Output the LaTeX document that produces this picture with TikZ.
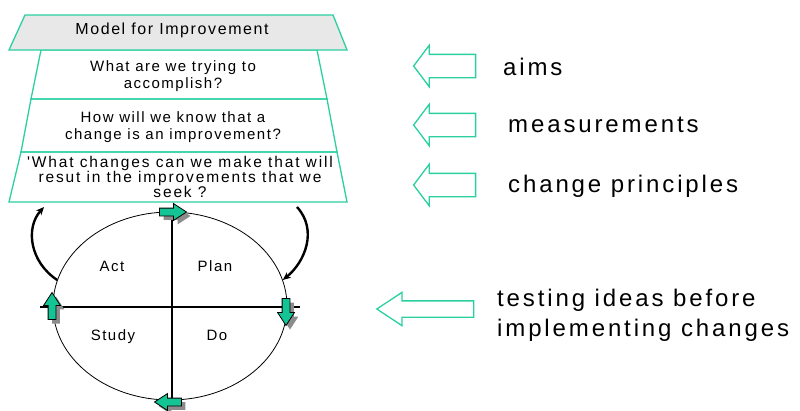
\documentclass[tikz,border=0pt]{standalone}
\usepackage{fontspec}
\setmainfont{Liberation Sans}
\newfontfamily\boxfont[LetterSpace=10]{Liberation Sans}
\newfontfamily\sidefont[LetterSpace=12]{Liberation Sans}
\usetikzlibrary{shapes.geometric,shapes.arrows,shadows,arrows.meta}

\definecolor{tierline}{HTML}{2AD0A0}
\definecolor{cyclefill}{HTML}{14C494}
\definecolor{titlegray}{HTML}{E8E8E8}

\tikzset{
  tier/.style={draw=tierline, line width=1.3pt, line join=miter},
  boxtext/.style={font=\boxfont\fontsize{15}{17}\selectfont, align=center, inner sep=0pt},
  sidetext/.style={font=\sidefont\fontsize{24}{30}\selectfont, align=left, inner sep=0pt, anchor=base west},
  quadtext/.style={font=\boxfont\fontsize{15}{17}\selectfont, inner sep=0pt, anchor=base},
  hollowarrow/.style={single arrow, draw=tierline, line width=1.3pt, shape border rotate=180,
    inner xsep=0pt},
  cyclearrow/.style={single arrow, draw=black, line width=0.8pt, fill=cyclefill,
    minimum height=27pt, inner xsep=0pt, inner ysep=3.5pt, single arrow head extend=4.5pt,
    single arrow tip angle=66,
    drop shadow={shadow xshift=4pt, shadow yshift=-4pt, fill=black!45, opacity=1}},
  loopback/.style={line width=2.4pt, -{Stealth[length=8pt,width=7pt]}},
  axis/.style={line width=1.2pt}
}

\begin{document}
\begin{tikzpicture}[x=1pt, y=-1pt]
\useasboundingbox (0,0) rectangle (800,410);

% stacked question tiers
\draw[tier] (41,50) -- (317,50) -- (327,99) -- (31,99) -- cycle;
\draw[tier] (31,99) -- (327,99) -- (337,152) -- (21,152) -- cycle;
\draw[tier] (21,152) -- (337,152) -- (347,202) -- (9,202) -- cycle;
\draw[tier, fill=titlegray] (25,15) -- (333,15) -- (347,50) -- (9,50) -- cycle;

\node[boxtext, font=\boxfont\fontsize{16}{18}\selectfont, anchor=base] (title) at (172,34) {Model for Improvement};
\node[boxtext, anchor=center] (aimq) at (173,76) {What are we trying to\\accomplish?};
\node[boxtext, anchor=center] (measq) at (173,127) {How will we know that a\\change is an improvement?};
\node[boxtext, font=\sidefont\fontsize{15.5}{12.5}\selectfont, anchor=center] (changeq) at (180,177)
  {'What changes can we make that will\\resut in the improvements that we\\seek ?};

% side labels with outline arrows
\node[hollowarrow, minimum height=62pt, inner ysep=11pt, single arrow head extend=9pt,
  single arrow tip angle=106] (aimarrow) at (449,66) {};
\node[hollowarrow, minimum height=62pt, inner ysep=11pt, single arrow head extend=9pt,
  single arrow tip angle=106] (measarrow) at (449,125) {};
\node[hollowarrow, minimum height=62pt, inner ysep=11pt, single arrow head extend=9pt,
  single arrow tip angle=106] (changearrow) at (449,185) {};
\node[hollowarrow, minimum height=97pt, inner ysep=7.5pt, single arrow head extend=8.5pt,
  single arrow tip angle=67] (testarrow) at (431.5,309) {};

\node[sidetext] (aims) at (503,75) {aims};
\node[sidetext] (meas) at (508,132) {measurements};
\node[sidetext] (chp) at (508,192) {change principles};
\node[sidetext, anchor=west] (testing) at (497,315) {testing ideas before\\implementing changes};

% PDSA cycle
\node[ellipse, draw, line width=0.8pt, minimum width=234pt, minimum height=188pt, inner sep=0pt] (cycle) at (170,306) {};
\coordinate (vtop) at (172,208);
\coordinate (vbot) at (172,404);
\coordinate (hleft) at (40,307);
\coordinate (hright) at (300,307);
\draw[axis] (vtop) -- (vbot);
\draw[axis] (hleft) -- (hright);

\node[quadtext] (act) at (112,271) {Act};
\node[quadtext] (plan) at (215,271) {Plan};
\node[quadtext] (study) at (113,340) {Study};
\node[quadtext] (do) at (217,340) {Do};

\node[cyclearrow] (toparrow) at (170,212) {};
\node[cyclearrow, rotate=-90] (rightarrow) at (286,309) {};
\node[cyclearrow, rotate=180] (botarrow) at (171,402) {};
\node[cyclearrow, rotate=90] (leftarrow) at (52,309) {};

% links between the questions and the cycle
\coordinate (rtop) at (297,207);
\coordinate (ltop) at (44,207);
\draw[loopback] (rtop) .. controls (318,230) and (305,262) .. (cycle.13);
\draw[loopback] (cycle.167) .. controls (30,262) and (25,228) .. (ltop);
\end{tikzpicture}
\end{document}
